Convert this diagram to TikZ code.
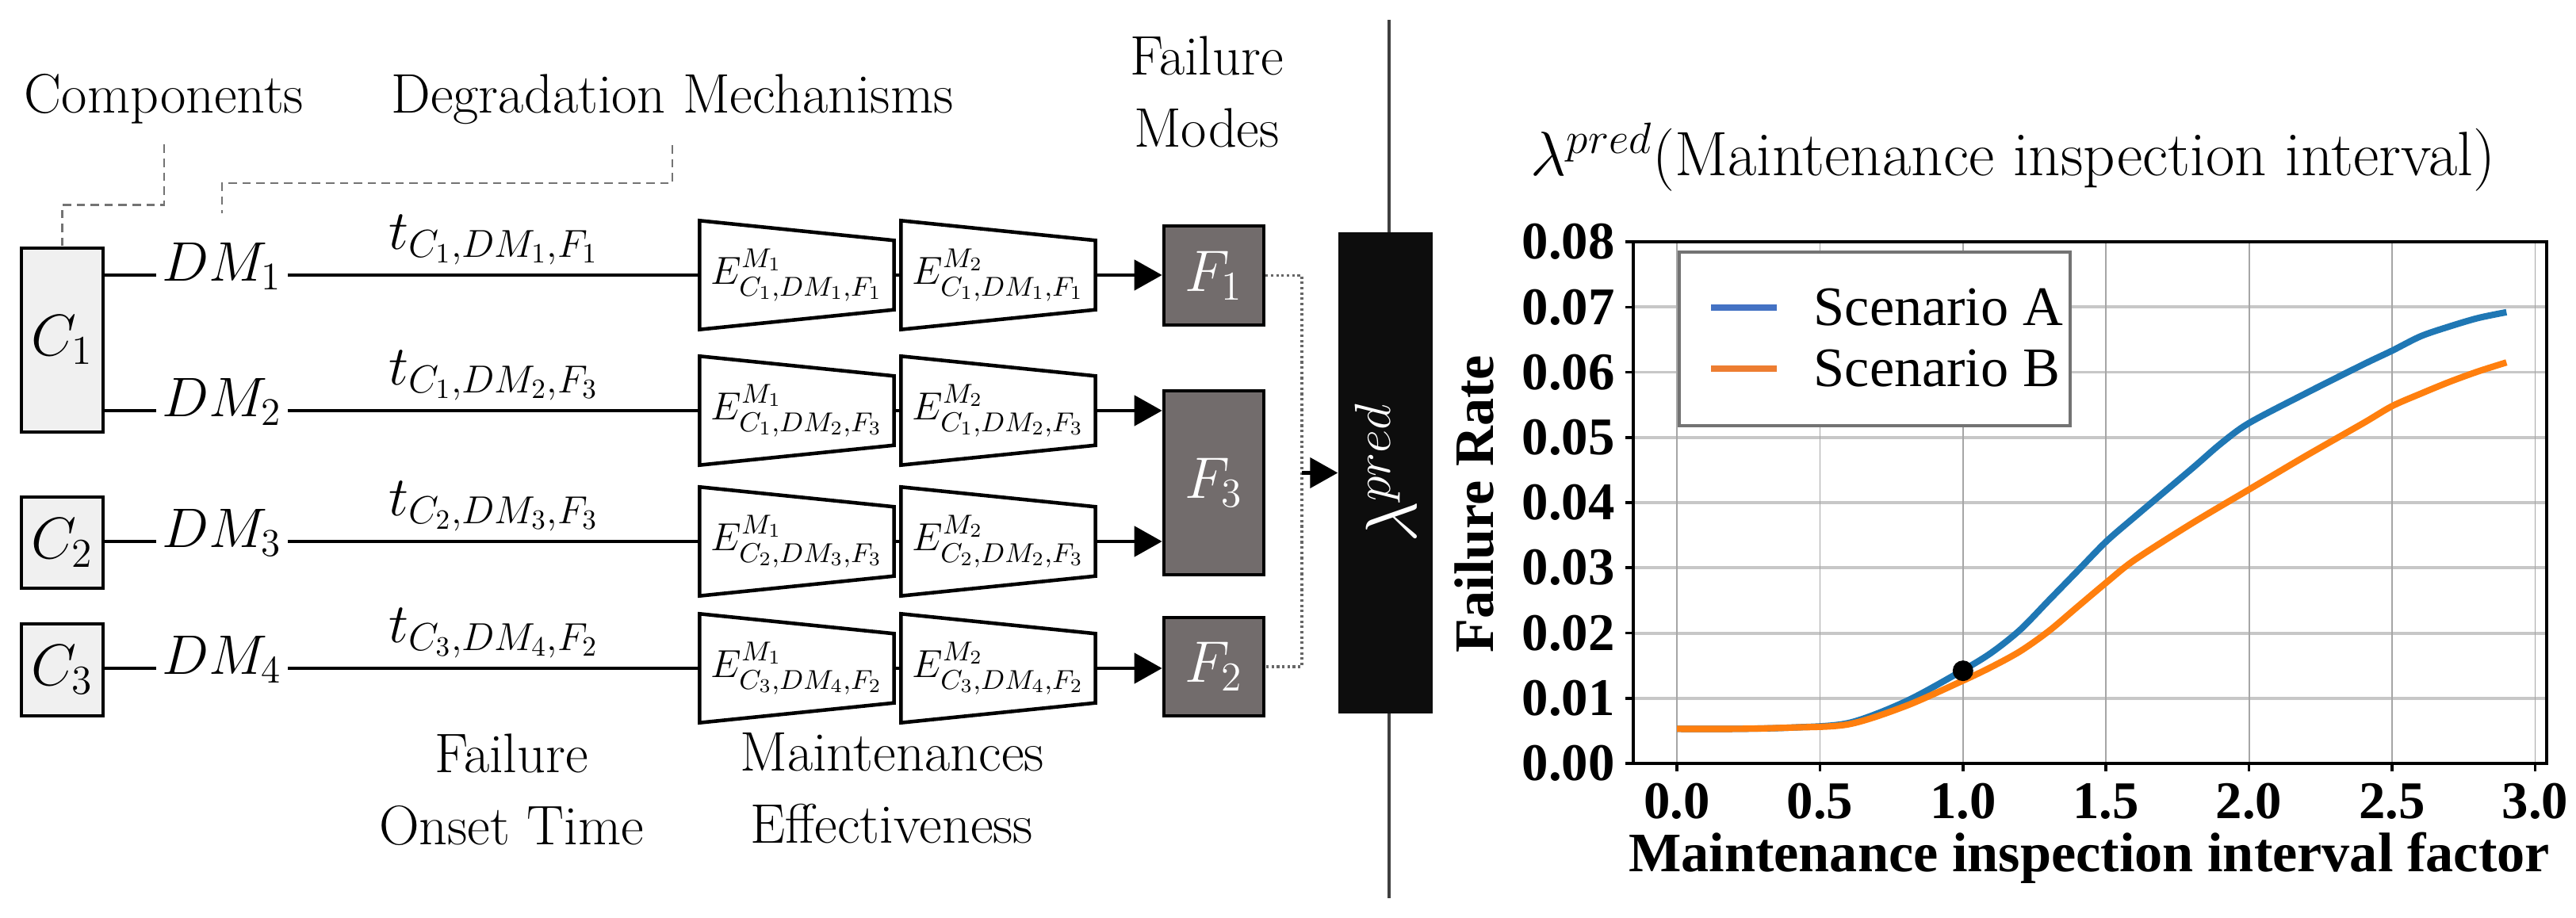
\documentclass[tikz,border=0pt]{standalone}
\usepackage{fix-cm}
\usepackage{amsmath, amssymb}
\usepackage{graphicx}
\usepackage{xcolor}
\usepackage{fontspec}
\newfontfamily\timesf{Liberation Serif}
\usetikzlibrary{arrows.meta, positioning}

\definecolor{cfill}{HTML}{F0F0F0}
\definecolor{ffill}{HTML}{726C6C}
\definecolor{lamfill}{HTML}{0D0D0D}
\definecolor{sca}{HTML}{1F77B4}
\definecolor{scb}{HTML}{FF7F0E}
\definecolor{lega}{HTML}{4472C4}
\definecolor{legb}{HTML}{ED7D31}

\tikzset{
  lbl/.style={font=\fontsize{20}{26}\selectfont, inner sep=0pt, align=center},
  comp/.style={draw, line width=1.3pt, fill=cfill, minimum width=1.03cm, inner sep=0pt, font=\fontsize{21}{24}\selectfont},
  dmn/.style={anchor=mid, inner sep=2pt, font=\fontsize{20}{24}\selectfont},
  ln/.style={line width=1.3pt},
  tlab/.style={above, inner sep=3pt, font=\fontsize{20}{24}\selectfont},
  trap/.style={minimum width=2.44cm, minimum height=1.36cm, inner sep=0pt, font=\fontsize{14}{16}\selectfont},
  trapline/.style={line width=1.3pt},
  arr/.style={line width=1.3pt, -{Triangle[length=0.35cm, width=0.38cm]}},
  fm/.style={draw, line width=1.3pt, fill=ffill, text=white, minimum width=1.26cm, inner sep=0pt, font=\fontsize{21}{24}\selectfont},
  lamb/.style={fill=lamfill, minimum width=1.19cm, minimum height=6.07cm, inner sep=0pt, text=white, font=\fontsize{26}{30}\selectfont},
  brk/.style={black!55, line width=0.8pt, densely dashed},
  dotl/.style={black!60, line width=0.9pt, densely dotted},
  divl/.style={black!75, line width=1.2pt},
  hgrid/.style={black!22, line width=1.1pt},
  vgrid/.style={black!35, line width=0.5pt},
  spine/.style={black, line width=1pt},
  curve/.style={line width=2.3pt},
  tkl/.style={inner sep=0pt, font=\timesf\bfseries\fontsize{19}{22}\selectfont},
  axl/.style={inner sep=0pt, font=\timesf\bfseries\fontsize{20}{24}\selectfont},
  legt/.style={inner sep=0pt, font=\timesf\fontsize{20}{24}\selectfont},
  legbox/.style={draw=black!55, line width=1pt, fill=white, minimum width=4.93cm, minimum height=2.19cm},
  dot/.style={circle, fill=black, inner sep=0pt, minimum size=0.26cm}
}

\begin{document}
\begin{tikzpicture}
  \useasboundingbox (0,0) rectangle (32.49,11.58);

  % divider
  \coordinate (dtop) at (17.52,11.33);
  \coordinate (dbot) at (17.52,0.25);
  \draw[divl] (dtop) -- (dbot);

  % headers
  \node[lbl, anchor=base] (comp) at (2.07,10.15) {Components};
  \node[lbl, anchor=base] (deg) at (8.48,10.15) {Degradation Mechanisms};
  \node[lbl] (fmodes) at (15.22,10.42) {Failure\\Modes};
  \node[lbl] (onset) at (6.45,1.62) {Failure\\Onset Time};
  \node[lbl] (meff) at (11.25,1.64) {Maintenances\\Effectiveness};

  % components
  \node[comp, minimum height=2.32cm] (c1) at (0.785,7.29) {$C_1$};
  \node[comp, minimum height=1.15cm] (c2) at (0.785,4.735) {$C_2$};
  \node[comp, minimum height=1.16cm] (c3) at (0.785,3.13) {$C_3$};

  % degradation mechanisms
  \node[dmn] (dm1) at (2.80,8.11) {$DM_1$};
  \node[dmn] (dm2) at (2.80,6.40) {$DM_2$};
  \node[dmn] (dm3) at (2.80,4.75) {$DM_3$};
  \node[dmn] (dm4) at (2.80,3.15) {$DM_4$};

  \draw[brk] ([yshift=-0.25cm]comp.south) -- ++(0,-0.76) -| (c1.north);
  \draw[brk] ([yshift=-0.25cm]deg.south) -- ++(0,-0.48) -| ([yshift=0.3cm]dm1.north);

  % maintenance effectiveness
  \node[trap] (e11) at (10.05,8.11) {$E^{M_1}_{C_1,DM_1,F_1}$};
  \node[trap] (e12) at (12.59,8.11) {$E^{M_2}_{C_1,DM_1,F_1}$};
  \node[trap] (e21) at (10.05,6.40) {$E^{M_1}_{C_1,DM_2,F_3}$};
  \node[trap] (e22) at (12.59,6.40) {$E^{M_2}_{C_1,DM_2,F_3}$};
  \node[trap] (e31) at (10.05,4.75) {$E^{M_1}_{C_2,DM_3,F_3}$};
  \node[trap] (e32) at (12.59,4.75) {$E^{M_2}_{C_2,DM_2,F_3}$};
  \node[trap] (e41) at (10.05,3.15) {$E^{M_1}_{C_3,DM_4,F_2}$};
  \node[trap] (e42) at (12.59,3.15) {$E^{M_2}_{C_3,DM_4,F_2}$};
  \foreach \n in {e11,e12,e21,e22,e31,e32,e41,e42}
    \draw[trapline] (\n.north west) -- ([yshift=-0.25cm]\n.north east)
      -- ([yshift=0.25cm]\n.south east) -- (\n.south west) -- cycle;

  % failure modes
  \node[fm, minimum height=1.25cm] (f1) at (15.31,8.105) {$F_1$};
  \node[fm, minimum height=2.32cm] (f3) at (15.31,5.49) {$F_3$};
  \node[fm, minimum height=1.24cm] (f2) at (15.31,3.17) {$F_2$};

  \node[lamb] (lam) at (17.475,5.615) {\rotatebox{90}{$\lambda^{pred}$}};

  % connections
  \draw[ln] (c1.east |- dm1.mid) -- (dm1.mid west);
  \draw[ln] (c1.east |- dm2.mid) -- (dm2.mid west);
  \draw[ln] (c2.east |- dm3.mid) -- (dm3.mid west);
  \draw[ln] (c3.east |- dm4.mid) -- (dm4.mid west);

  \draw[ln] (dm1.mid east) -- node[tlab] (t1) {$t_{C_1,DM_1,F_1}$} (e11.west);
  \draw[ln] (dm2.mid east) -- node[tlab] (t2) {$t_{C_1,DM_2,F_3}$} (e21.west);
  \draw[ln] (dm3.mid east) -- node[tlab] (t3) {$t_{C_2,DM_3,F_3}$} (e31.west);
  \draw[ln] (dm4.mid east) -- node[tlab] (t4) {$t_{C_3,DM_4,F_2}$} (e41.west);

  \foreach \r in {1,2,3,4}
    \draw[ln] (e\r1.east) -- (e\r2.west);

  \draw[arr] (e12.east) -- (e12.east -| f1.west);
  \draw[arr] (e22.east) -- (e22.east -| f3.west);
  \draw[arr] (e32.east) -- (e32.east -| f3.west);
  \draw[arr] (e42.east) -- (e42.east -| f2.west);

  \coordinate (jn) at (16.42,5.615);
  \draw[dotl] (f1.east) -| (jn) |- (f2.east);
  \draw[arr] (jn) -- (lam.west);

  % failure rate plot
  \node[lbl, anchor=base, font=\fontsize{22.5}{26}\selectfont] (ttl) at (25.39,9.36) {$\lambda^{pred}$(Maintenance inspection interval)};

  \begin{scope}[shift={(21.15,1.95)}, x=3.608cm, y=82.25cm]
    \foreach \v in {1,...,7}
      \draw[hgrid] (-0.152,\v/100) -- (3.041,\v/100);
    \foreach \u in {0.0,0.5,1.0,1.5,2.0,2.5,3.0}
      \draw[vgrid] (\u,0) -- (\u,0.08);

    \draw[sca, curve] plot[smooth] coordinates {(0,0.0053) (0.2,0.0053) (0.4,0.0055) (0.6,0.0062)
      (0.8,0.0095) (1.0,0.0143) (1.1,0.017) (1.2,0.0205) (1.3,0.025) (1.4,0.0295) (1.5,0.034)
      (1.6,0.0378) (1.8,0.0452) (1.9,0.049) (2.0,0.0522) (2.2,0.0568) (2.4,0.0612) (2.5,0.0633)
      (2.6,0.0655) (2.7,0.067) (2.8,0.0683) (2.9,0.0692)};
    \draw[scb, curve] plot[smooth] coordinates {(0,0.0053) (0.2,0.0053) (0.4,0.0055) (0.6,0.006)
      (0.8,0.0088) (1.0,0.0127) (1.1,0.0148) (1.2,0.0172) (1.3,0.0203) (1.4,0.024) (1.5,0.0277)
      (1.6,0.0312) (1.8,0.0368) (2.0,0.042) (2.2,0.0472) (2.4,0.0522) (2.5,0.0548) (2.6,0.0567)
      (2.7,0.0585) (2.8,0.0601) (2.9,0.0615)};
    \node[dot] (pt) at (1.0,0.0142) {};

    \draw[spine] (-0.152,0) rectangle (3.041,0.08);
    \foreach \v in {0,...,8} {
      \draw[spine] (-0.152,\v/100) -- ++(-0.1cm,0);
      \node[tkl, anchor=east, xshift=-0.23cm] (yt\v) at (-0.152,\v/100) {0.0\v};
    }
    \foreach \u [count=\i] in {0.0,0.5,1.0,1.5,2.0,2.5,3.0} {
      \draw[spine] (\u,0) -- ++(0,-0.1cm);
      \node[tkl, yshift=-0.48cm] (xt\i) at (\u,0) {\u};
    }
    \node[axl, anchor=base, yshift=-1.37cm] (xl) at (1.441,0) {Maintenance inspection interval factor};
    \node[axl, rotate=90] (yl) at (-0.707,0.0398) {Failure Rate};
  \end{scope}

  % legend
  \node[legbox] (leg) at (23.645,7.305) {};
  \node[legt, anchor=west] (la) at (22.87,7.70) {Scenario A};
  \node[legt, anchor=west] (lb) at (22.87,6.93) {Scenario B};
  \draw[lega, curve] ([xshift=-0.46cm]la.west) -- ++(-0.83,0);
  \draw[legb, curve] ([xshift=-0.46cm]lb.west) -- ++(-0.83,0);
\end{tikzpicture}
\end{document}
